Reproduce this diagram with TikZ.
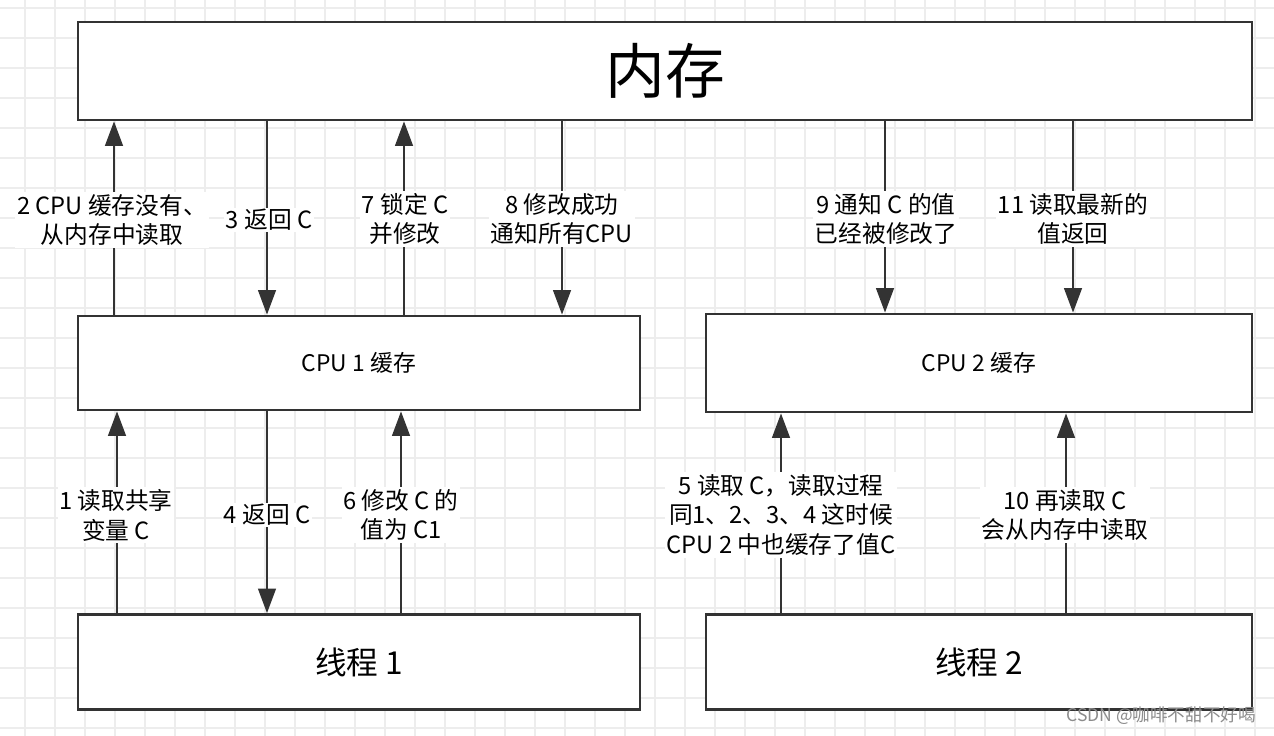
\documentclass[tikz,border=0pt]{standalone}
\usepackage{fontspec}
\setmainfont{Noto Sans CJK SC}
\usetikzlibrary{arrows.meta}
\begin{document}
\begin{tikzpicture}[x=0.02cm,y=-0.02cm,
 box/.style={draw=black!80,line width=1.5pt,fill=white,inner sep=0},
 ar/.style={draw=black!80,line width=1.5pt,-{Triangle[length=14pt,width=10pt]}},
 lb/.style={fill=white,align=center,font=\fontsize{13.5}{17}\selectfont,inner sep=1pt}]
\useasboundingbox (0,0) rectangle (1274,736);
\fill[white] (0,0) rectangle (1274,736);
\foreach \x in {25,55,...,1274} \draw[black!7,line width=0.8pt] (\x,0)--(\x,736);
\foreach \y in {8,38,...,736} \draw[black!7,line width=0.8pt] (0,\y)--(1274,\y);
\node[box,minimum width=1174*0.02cm,minimum height=98*0.02cm,font=\fontsize{34}{34}\selectfont] (mem) at (665,71) {内存};
\node[box,minimum width=562*0.02cm,minimum height=94*0.02cm,font=\fontsize{13}{13}\selectfont] (c1) at (359,363) {CPU 1 缓存};
\node[box,minimum width=546*0.02cm,minimum height=98*0.02cm,font=\fontsize{13}{13}\selectfont] (c2) at (979,363) {CPU 2 缓存};
\node[box,minimum width=562*0.02cm,minimum height=95*0.02cm,font=\fontsize{18}{18}\selectfont] (t1) at (359,662) {线程 1};
\node[box,minimum width=546*0.02cm,minimum height=95*0.02cm,font=\fontsize{18}{18}\selectfont] (t2) at (979,662) {线程 2};
\draw[ar] (c1.north-|114,0) -- (mem.south-|114,0);
\draw[ar] (mem.south-|267,0) -- (c1.north-|267,0);
\draw[ar] (c1.north-|404,0) -- (mem.south-|404,0);
\draw[ar] (mem.south-|562,0) -- (c1.north-|562,0);
\draw[ar] (mem.south-|885,0) -- (c2.north-|885,0);
\draw[ar] (mem.south-|1073,0) -- (c2.north-|1073,0);
\draw[ar] (t1.north-|117,0) -- (c1.south-|117,0);
\draw[ar] (c1.south-|267,0) -- (t1.north-|267,0);
\draw[ar] (t1.north-|401,0) -- (c1.south-|401,0);
\draw[ar] (t2.north-|781,0) -- (c2.south-|781,0);
\draw[ar] (t2.north-|1066,0) -- (c2.south-|1066,0);
\node[lb] (l2) at (112,220) {2 CPU 缓存没有、\\从内存中读取};
\node[lb] (l3) at (269,220) {3 返回 C};
\node[lb] (l7) at (405,219) {7 锁定 C\\并修改};
\node[lb] (l8) at (562,219) {8 修改成功\\通知所有CPU};
\node[lb] (l9) at (886,219) {9 通知 C 的值\\已经被修改了};
\node[lb] (l11) at (1073,219) {11 读取最新的\\值返回};
\node[lb] (l1) at (116,515) {1 读取共享\\变量 C};
\node[lb] (l4) at (267,515) {4 返回 C};
\node[lb] (l6) at (401,515) {6 修改 C 的\\值为 C1};
\node[lb] (l5) at (781,515) {5 读取 C，读取过程\\同1、2、3、4 这时候\\CPU 2 中也缓存了值C};
\node[lb] (l10) at (1065,515) {10 再读取 C\\会从内存中读取};
\node[font=\fontsize{10}{10}\selectfont,text=black!45,anchor=east] (wm) at (1262,716) {CSDN @咖啡不甜不好喝};
\end{tikzpicture}
\end{document}
